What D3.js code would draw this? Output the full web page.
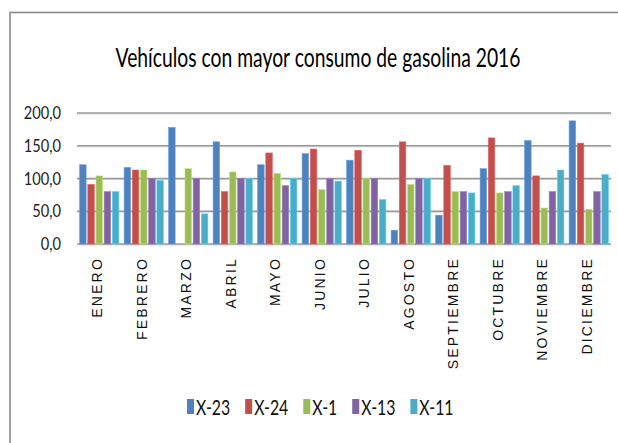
<!DOCTYPE html>
<html><head><meta charset="utf-8">
<script src="https://cdn.jsdelivr.net/npm/d3@7"></script>
<style>html,body{margin:0;padding:0;background:#fff;}svg{display:block;}</style>
</head><body>
<script>
const months = ["ENERO","FEBRERO","MARZO","ABRIL","MAYO","JUNIO","JULIO","AGOSTO","SEPTIEMBRE","OCTUBRE","NOVIEMBRE","DICIEMBRE"];
const seriesNames = ["X-23","X-24","X-1","X-13","X-11"];
const x23 = [121,117,178,156,121,138,128,21,44,115,158,188];
const x24 = [91,113,null,80,139,145,143,156,120,162,104,154];
const x1  = [104,113,115,110,108,83,100,91,80,78,55,53];
const x13 = [80,100,100,100,89,100,100,100,80,80,80,80];
const x11 = [80,97,46,100,100,96,68,100,78,89,113,106];
const yTicks = [0,50,100,150,200];
const colors = ["#4F81BD","#C0504D","#9BBB59","#8064A2","#4BACC6"];
const seriesValues = [x23,x24,x1,x13,x11];
const title = "Vehículos con mayor consumo de gasolina 2016";

const W = 618, H = 443;
const svg = d3.select("body").append("svg").attr("width",W).attr("height",H);

// chart frame
svg.append("rect").attr("x",10).attr("y",12.5).attr("width",W+20).attr("height",H+20)
  .attr("fill","none").attr("stroke","#8a8a8a").attr("stroke-width",1.6);

// title (scaled horizontally to the reference width)
const tg = svg.append("g");
const tt = tg.append("text").attr("text-anchor","middle")
  .attr("font-family","Lato, 'Open Sans', sans-serif").attr("font-size",27)
  .attr("fill","#000").text(title);
const tw = tt.node().getComputedTextLength();
tg.attr("transform",`translate(318,67) scale(${405/tw},1)`);

const x0 = d3.scaleBand().domain(months).range([77,611]).paddingInner(0.08).paddingOuter(0.04);
const x1s = d3.scaleBand().domain(seriesNames).range([0,x0.bandwidth()]).paddingInner(0.2).paddingOuter(0.1);
const y = d3.scaleLinear().domain([0,200]).range([244,113]);

// gridlines
const grid = svg.append("g");
grid.selectAll("line.s").data(yTicks).join("line").attr("class","s")
  .attr("x1",77).attr("x2",611).attr("y1",d=>y(d)+1).attr("y2",d=>y(d)+1)
  .attr("stroke","#d4d4d4").attr("stroke-width",1);
grid.selectAll("line.g").data(yTicks).join("line").attr("class","g")
  .attr("x1",77).attr("x2",611).attr("y1",d=>y(d)).attr("y2",d=>y(d))
  .attr("stroke","#9a9a9a").attr("stroke-width",1.4);

// y tick labels
const yax = svg.append("g");
yTicks.forEach(t=>{
  yax.append("g").attr("transform",`translate(61,${y(t)}) scale(0.86,1)`)
    .append("text").attr("text-anchor","end").attr("dy","0.36em")
    .attr("font-family","Lato, 'Open Sans', sans-serif").attr("font-size",17)
    .attr("fill","#222").text(d3.format(".1f")(t).replace(".",","));
});

// bars
const bars = svg.append("g");
seriesValues.forEach((vals,si)=>{
  bars.selectAll(null).data(months.map((m,i)=>({m,v:vals[i]})).filter(d=>d.v!=null)).join("rect")
    .attr("x",d=>x0(d.m)+x1s(seriesNames[si]))
    .attr("width",x1s.bandwidth())
    .attr("y",d=>y(d.v)).attr("height",d=>y(0)-y(d.v))
    .attr("fill",colors[si])
    .attr("stroke",d3.color(colors[si]).brighter(0.6)).attr("stroke-width",0.6);
});

// x labels
const xl = svg.append("g");
months.forEach(m=>{
  xl.append("text")
    .attr("transform",`translate(${x0(m)+x0.bandwidth()/2-2},257) rotate(-90)`)
    .attr("text-anchor","end").attr("dy","0.36em")
    .attr("font-family","'Liberation Sans', Arial, sans-serif").attr("font-size",14)
    .attr("letter-spacing",2.2).attr("fill","#111").text(m);
});

// legend
const lg = svg.append("g");
let lx = 187;
seriesNames.forEach((s,i)=>{
  lg.append("rect").attr("x",lx).attr("y",399).attr("width",7).attr("height",15).attr("fill",colors[i]);
  const g = lg.append("g").attr("transform",`translate(${lx+9},407) scale(0.72,1)`);
  const t = g.append("text").attr("dy","0.36em")
    .attr("font-family","Lato, 'Open Sans', sans-serif").attr("font-size",22)
    .attr("fill","#111").text(s);
  const w = t.node().getComputedTextLength()*0.72;
  lx = lx + 9 + w + 15;
});
</script>
</body></html>
